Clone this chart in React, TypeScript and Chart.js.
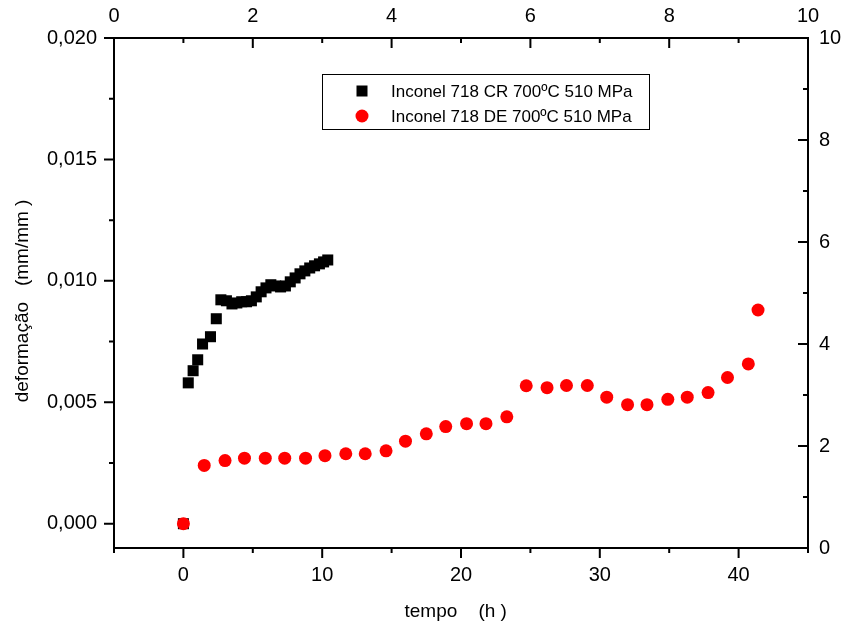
import React, { useEffect, useRef } from 'react';
import { Chart, registerables } from 'chart.js';

Chart.register(...registerables);

// ---- data ----
const crTime = [0, 0.35, 0.7, 1.03, 1.38, 1.95, 2.37, 2.7, 3.1, 3.5, 3.85, 4.2, 4.55, 4.9, 5.25, 5.6, 5.95, 6.3, 6.65, 7.0, 7.35, 7.7, 8.05, 8.4, 8.75, 9.1, 9.45, 9.8, 10.1, 10.4];
const crStrain = [0, 0.0058, 0.0063, 0.00675, 0.0074, 0.0077, 0.00844, 0.00922, 0.00918, 0.00905, 0.00909, 0.00914, 0.00914, 0.00918, 0.00934, 0.00955, 0.00971, 0.00984, 0.00979, 0.00975, 0.00979, 0.00996, 0.01012, 0.01029, 0.01041, 0.01053, 0.01062, 0.0107, 0.01078, 0.01086];

const deTime = [0, 1.5, 3.0, 4.4, 5.9, 7.3, 8.8, 10.2, 11.7, 13.1, 14.6, 16.0, 17.5, 18.9, 20.4, 21.8, 23.3, 24.7, 26.2, 27.6, 29.1, 30.5, 32.0, 33.4, 34.9, 36.3, 37.8, 39.2, 40.7, 41.4];
const deStrain = [0, 0.0024, 0.0026, 0.0027, 0.0027, 0.0027, 0.0027, 0.0028, 0.00288, 0.00288, 0.003, 0.0034, 0.0037, 0.004, 0.00412, 0.00412, 0.0044, 0.00568, 0.0056, 0.00569, 0.00569, 0.00521, 0.0049, 0.0049, 0.00512, 0.00521, 0.0054, 0.00602, 0.00658, 0.0088];

const legendLabels = ['Inconel 718 CR 700ºC 510 MPa', 'Inconel 718 DE 700ºC 510 MPa'];
const xTitle = 'tempo    (h )  ';
const yTitle = 'deformação   (mm/mm )   ';

const xTicks = [0, 10, 20, 30, 40];
const xMinor = [-5, 5, 15, 25, 35, 45];
const yTicks = [0, 0.005, 0.01, 0.015, 0.02];
const yMinor = [0.0025, 0.0075, 0.0125, 0.0175];
const topTicks = [0, 2, 4, 6, 8, 10];
const topMinor = [1, 3, 5, 7, 9];
const rightTicks = [0, 2, 4, 6, 8, 10];
const rightMinor = [1, 3, 5, 7, 9];

const FONT = "'Liberation Sans', Arial, sans-serif";

const axesPlugin = {
  id: 'originAxes',
  afterDraw(chart: any) {
    const { ctx, chartArea, scales } = chart;
    const { left, right, top, bottom } = chartArea;
    ctx.save();
    ctx.strokeStyle = '#000';
    ctx.lineWidth = 2;
    ctx.beginPath();
    ctx.rect(left, top, right - left, bottom - top);
    ctx.stroke();
    const MAJ = 10, MIN = 5;
    ctx.beginPath();
    xTicks.forEach((v) => { const p = scales.x.getPixelForValue(v); ctx.moveTo(p, bottom); ctx.lineTo(p, bottom + MAJ); });
    xMinor.forEach((v) => { const p = scales.x.getPixelForValue(v); ctx.moveTo(p, bottom); ctx.lineTo(p, bottom + MIN); });
    yTicks.forEach((v) => { const p = scales.y.getPixelForValue(v); ctx.moveTo(left, p); ctx.lineTo(left - MAJ, p); });
    yMinor.forEach((v) => { const p = scales.y.getPixelForValue(v); ctx.moveTo(left, p); ctx.lineTo(left - MIN, p); });
    topTicks.forEach((v) => { const p = scales.x2.getPixelForValue(v); ctx.moveTo(p, top); ctx.lineTo(p, top + MAJ); });
    topMinor.forEach((v) => { const p = scales.x2.getPixelForValue(v); ctx.moveTo(p, top); ctx.lineTo(p, top + MIN); });
    rightTicks.forEach((v) => { const p = scales.y2.getPixelForValue(v); ctx.moveTo(right, p); ctx.lineTo(right - MAJ, p); });
    rightMinor.forEach((v) => { const p = scales.y2.getPixelForValue(v); ctx.moveTo(right, p); ctx.lineTo(right - MIN, p); });
    ctx.stroke();

    // legend box
    const bx = left + 208, by = top + 36.5, bw = 327, bh = 55;
    ctx.lineWidth = 1;
    ctx.strokeStyle = '#000';
    ctx.strokeRect(bx + 0.5, by, bw, bh);
    const symX = bx + 40;
    const rows = [by + 16.5, by + 41.5];
    ctx.fillStyle = '#000';
    ctx.fillRect(symX - 5.5, rows[0] - 5.5, 11, 11);
    ctx.fillStyle = '#ff0000';
    ctx.beginPath();
    ctx.arc(symX, rows[1], 6.5, 0, Math.PI * 2);
    ctx.fill();
    ctx.fillStyle = '#000';
    ctx.font = `17px ${FONT}`;
    ctx.textBaseline = 'middle';
    ctx.textAlign = 'left';
    legendLabels.forEach((t, i) => ctx.fillText(t, bx + 69, rows[i] + 1));
    ctx.restore();
  },
};

export default function App() {
  const ref = useRef<HTMLCanvasElement | null>(null);
  useEffect(() => {
    if (!ref.current) return;
    const tickFont = { family: FONT, size: 20 };
    const chart = new Chart(ref.current, {
      type: 'scatter',
      data: {
        datasets: [
          {
            label: legendLabels[1],
            data: deTime.map((t, i) => ({ x: t, y: deStrain[i] })),
            pointStyle: 'circle',
            pointRadius: 6.5,
            pointBackgroundColor: '#ff0000',
            pointBorderWidth: 0,
            borderColor: '#ff0000',
            showLine: false,
            order: 0,
            xAxisID: 'x',
            yAxisID: 'y',
          },
          {
            label: legendLabels[0],
            data: crTime.map((t, i) => ({ x: t, y: crStrain[i] })),
            pointStyle: 'rect',
            pointRadius: 7.8,
            pointBackgroundColor: '#000',
            pointBorderWidth: 0,
            borderColor: '#000',
            showLine: false,
            order: 1,
            xAxisID: 'x',
            yAxisID: 'y',
          },
        ],
      },
      options: {
        responsive: false,
        animation: false,
        events: [],
        layout: { padding: 0 },
        plugins: { legend: { display: false }, tooltip: { enabled: false } },
        scales: {
          x: {
            type: 'linear',
            position: 'bottom',
            min: -5,
            max: 45,
            afterBuildTicks: (s: any) => { s.ticks = xTicks.map((v) => ({ value: v })); },
            afterFit: (s: any) => { s.height = 81; },
            grid: { display: false, drawTicks: false },
            border: { display: false },
            ticks: { padding: 15, color: '#000', font: tickFont, maxRotation: 0 },
            title: { display: true, text: xTitle, color: '#000', font: { family: FONT, size: 19 }, padding: { top: 0, bottom: 6 } },
          },
          x2: {
            type: 'linear',
            position: 'top',
            min: 0,
            max: 10,
            afterBuildTicks: (s: any) => { s.ticks = topTicks.map((v) => ({ value: v })); },
            afterFit: (s: any) => { s.height = 38; },
            grid: { display: false, drawTicks: false },
            border: { display: false },
            ticks: { padding: 10, color: '#000', font: tickFont, maxRotation: 0 },
          },
          y: {
            type: 'linear',
            position: 'left',
            min: -0.001,
            max: 0.02,
            afterBuildTicks: (s: any) => { s.ticks = yTicks.map((v) => ({ value: v })); },
            afterFit: (s: any) => { s.width = 114; },
            grid: { display: false, drawTicks: false },
            border: { display: false },
            ticks: {
              padding: 17,
              color: '#000',
              font: tickFont,
              callback: (v: any) => Number(v).toFixed(3).replace('.', ','),
            },
            title: { display: true, text: yTitle, color: '#000', font: { family: FONT, size: 19 }, padding: { top: 11, bottom: 0 } },
          },
          y2: {
            type: 'linear',
            position: 'right',
            min: 0,
            max: 10,
            afterBuildTicks: (s: any) => { s.ticks = rightTicks.map((v) => ({ value: v })); },
            afterFit: (s: any) => { s.width = 36; },
            grid: { display: false, drawTicks: false },
            border: { display: false },
            ticks: { padding: 11, color: '#000', font: tickFont },
          },
        },
      },
      plugins: [axesPlugin],
    } as any);
    return () => chart.destroy();
  }, []);

  return (
    <div style={{ position: 'fixed', left: 0, top: 0, width: 844, height: 629, background: '#fff' }}>
      <canvas ref={ref} width={844} height={629} />
    </div>
  );
}
